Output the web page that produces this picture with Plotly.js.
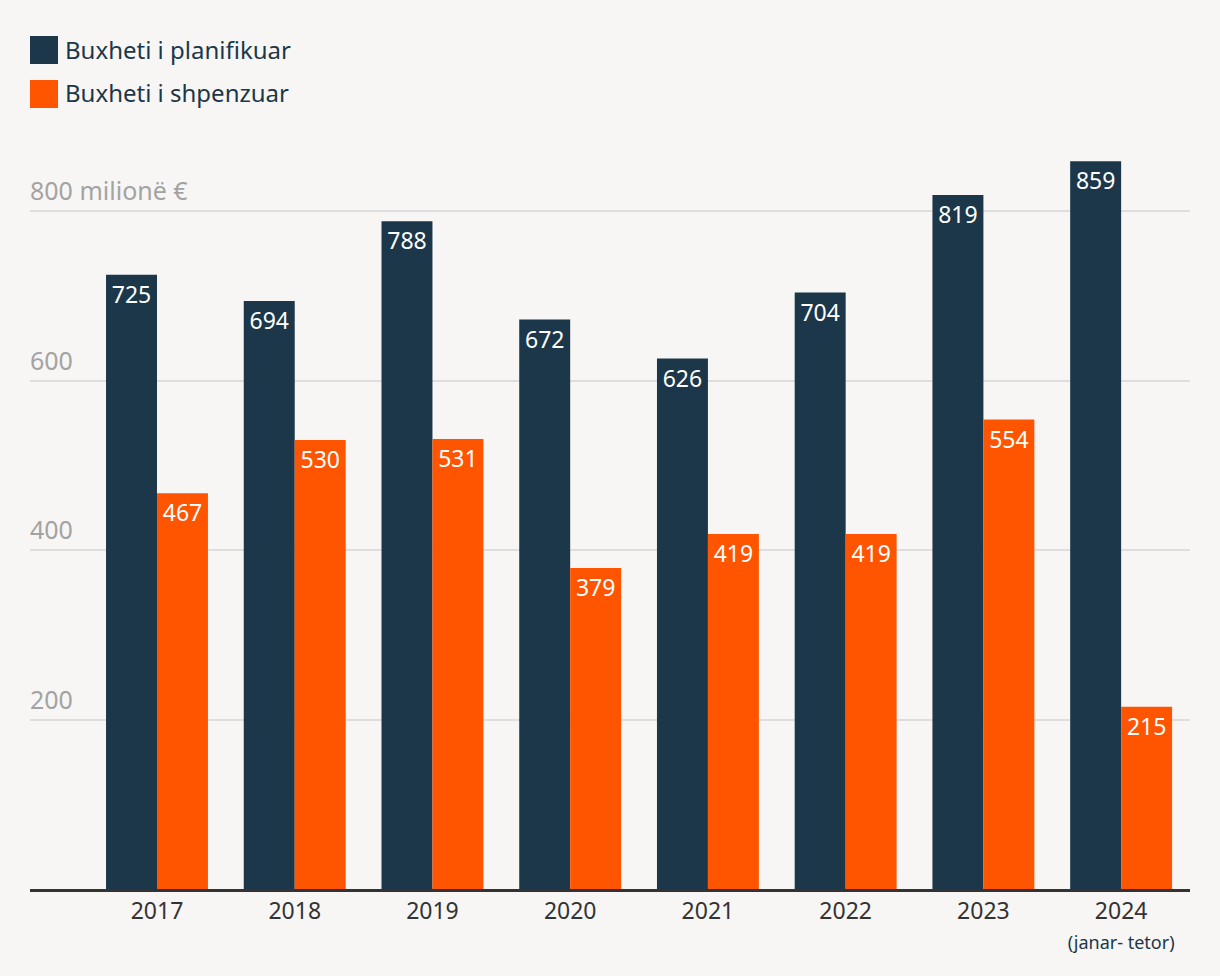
<!DOCTYPE html>
<html><head><meta charset="utf-8">
<script src="https://cdn.plot.ly/plotly-3.0.1.min.js"></script>
<style>html,body{margin:0;padding:0;background:#f7f6f4;}</style>
</head><body>
<div id="chart" style="width:1220px;height:976px;"></div>
<script>
const years = ["2017","2018","2019","2020","2021","2022","2023","2024"];
const yearLabels = ["2017","2018","2019","2020","2021","2022","2023","2024<br><span style='font-size:18px;color:#1b3749'>(janar- tetor)</span>"];
const planned = [725, 694, 788, 672, 626, 704, 819, 859];
const spent = [467, 530, 531, 379, 419, 419, 554, 215];
const seriesNames = ["Buxheti i planifikuar", "Buxheti i shpenzuar"];
const colors = ["#1b3749", "#ff5500"];
const yTicks = [200, 400, 600, 800];
const yTickText = ["200", "400", "600", "800 milionë €"];

const font = "Noto Sans, sans-serif";
const xIdx = years.map((_, i) => i);

function barTrace(vals, name, color) {
  return {
    type: "bar", x: xIdx, y: vals, name: name,
    marker: {color: color, line: {width: 0}},
    text: vals.map(String), textposition: "inside", insidetextanchor: "end",
    textangle: 0, constraintext: "none",
    textfont: {family: font, size: 23, color: "#ffffff"},
    hoverinfo: "none", showlegend: false
  };
}

const data = [barTrace(planned, seriesNames[0], colors[0]), barTrace(spent, seriesNames[1], colors[1])];

const layout = {
  width: 1220, height: 976,
  paper_bgcolor: "#f7f6f4", plot_bgcolor: "#f7f6f4",
  margin: {l: 30, r: 30, t: 140, b: 87},
  barmode: "group", bargap: 0.26, bargroupgap: 0,
  font: {family: font},
  xaxis: {
    range: [-0.922, 7.5], tickmode: "array", tickvals: xIdx, ticktext: yearLabels,
    showgrid: false, zeroline: false, showline: true, linecolor: "#333333", linewidth: 2.5,
    ticks: "", tickfont: {family: font, size: 23, color: "#333333"}, fixedrange: true
  },
  yaxis: {
    range: [0, 884], tickmode: "array", tickvals: yTicks, ticktext: yTickText,
    showgrid: true, gridcolor: "#dedede", gridwidth: 2, zeroline: false, showline: false,
    showticklabels: false, ticks: "", fixedrange: true
  },
  shapes: [],
  annotations: []
};

// y tick labels drawn as annotations above gridlines (left-aligned inside)
yTicks.forEach((v, i) => {
  layout.annotations.push({xref: "paper", yref: "y", x: 0, y: v, xanchor: "left", yanchor: "bottom",
    yshift: 2, xshift: -2, showarrow: false, text: yTickText[i],
    font: {family: font, size: 25, color: "#a3a3a3"}});
});

// Legend drawn as swatches + text in pixel-based paper coords
const plotW = 1220 - 60, plotH = 976 - 140 - 87;
function px2x(px) { return (px - 30) / plotW; }
function py2y(py) { return (976 - 87 - py) / plotH; }
seriesNames.forEach((n, i) => {
  const top = 36 + i * 44;
  layout.shapes.push({type: "rect", xref: "paper", yref: "paper",
    x0: px2x(30), x1: px2x(58), y0: py2y(top + 28), y1: py2y(top),
    line: {width: 0}, fillcolor: colors[i]});
  layout.annotations.push({xref: "paper", yref: "paper", x: px2x(63), y: py2y(top + 13),
    xanchor: "left", yanchor: "middle", showarrow: false, text: n,
    font: {family: font, size: 24, color: "#1b3749"}});
});

Plotly.newPlot("chart", data, layout, {displayModeBar: false, staticPlot: true});
</script>
</body></html>
